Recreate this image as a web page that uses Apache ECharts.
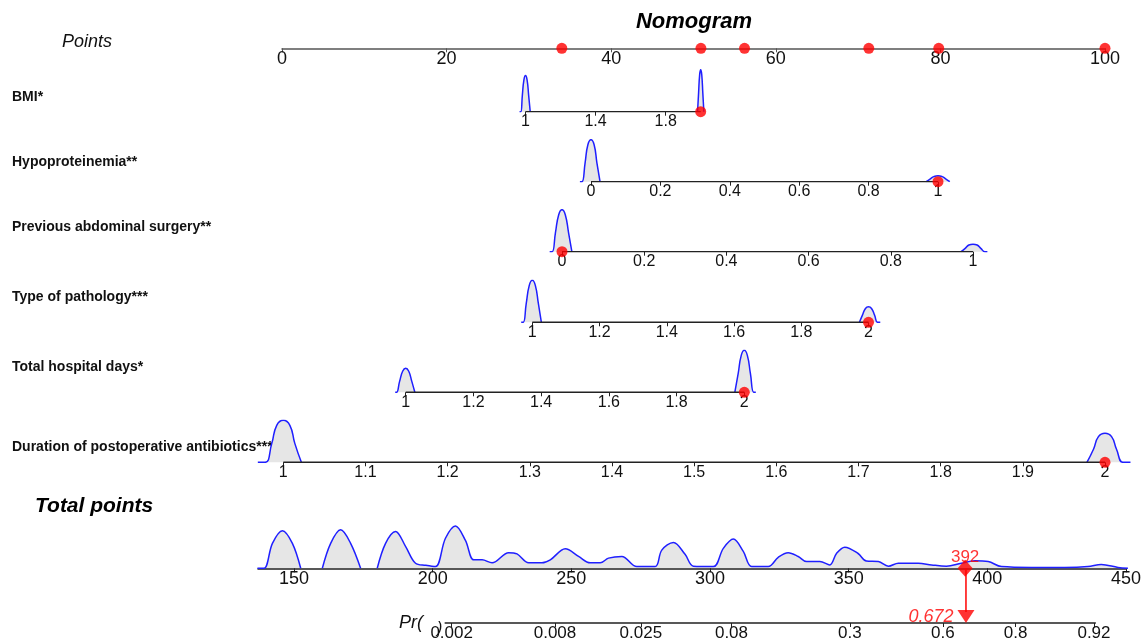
<!DOCTYPE html>
<html>
<head>
<meta charset="utf-8">
<title>Nomogram</title>
<script src="https://cdn.jsdelivr.net/npm/echarts@6/dist/echarts.min.js"></script>
<style>
    html, body { margin: 0; padding: 0; background: #fff; }
    #chart { width: 1144px; height: 642px; }
</style>
</head>
<body>
<div id="chart"></div>
<script>
// tick labels of every scale
var pointsTicks = [0, 20, 40, 60, 80, 100];
var bmiTicks = [1, 1.4, 1.8];
var hypoTicks = [0, 0.2, 0.4, 0.6, 0.8, 1];
var surgeryTicks = [0, 0.2, 0.4, 0.6, 0.8, 1];
var pathologyTicks = [1, 1.2, 1.4, 1.6, 1.8, 2];
var hospitalTicks = [1, 1.2, 1.4, 1.6, 1.8, 2];
var antibioticTicks = [1, 1.1, 1.2, 1.3, 1.4, 1.5, 1.6, 1.7, 1.8, 1.9, 2];
var totalTicks = [150, 200, 250, 300, 350, 400, 450];
var prTicks = [0.002, 0.008, 0.025, 0.08, 0.3, 0.6, 0.8, 0.92];

var rowNames = ['BMI*', 'Hypoproteinemia**', 'Previous abdominal surgery**',
    'Type of pathology***', 'Total hospital days*', 'Duration of postoperative antibiotics***'];
var rowRanges = [[1, 2], [0, 1], [0, 1], [1, 2], [1, 2], [1, 2]];

// the patient shown in red
var patientValues = [2, 1, 0, 2, 2, 2];
var patientPoints = [34.0, 50.9, 56.2, 71.3, 79.8, 100];
var totalScore = 392;
var riskProb = 0.672;

// density humps: [value, relative height]
var bmiDensity = [[0.966, 0], [0.973, 0], [0.982, 0.39], [0.991, 0.76], [1, 0.86], [1.009, 0.76], [1.018, 0.39], [1.027, 0], '-',
    [1.982, 0], [1.988, 0.45], [1.994, 0.88], [2, 1], [2.006, 0.88], [2.012, 0.45], [2.018, 0]];
var hypoDensity = [[-0.032, 0], [-0.026, 0], [-0.017, 0.45], [-0.009, 0.88], [0, 1], [0.009, 0.88], [0.017, 0.45], [0.026, 0], '-',
    [0.966, 0], [0.978, 0.07], [0.988, 0.12], [1, 0.14], [1.012, 0.12], [1.022, 0.07], [1.034, 0]];
var surgeryDensity = [[-0.03, 0], [-0.024, 0], [-0.016, 0.45], [-0.008, 0.88], [0, 1], [0.008, 0.88], [0.016, 0.45], [0.024, 0], '-',
    [0.971, 0], [0.981, 0.08], [0.99, 0.16], [1, 0.18], [1.01, 0.16], [1.019, 0.08], [1.029, 0], [1.035, 0]];
var pathologyDensity = [[0.967, 0], [0.973, 0], [0.982, 0.45], [0.991, 0.88], [1, 1], [1.009, 0.88], [1.018, 0.45], [1.027, 0], '-',
    [1.973, 0], [1.982, 0.17], [1.991, 0.33], [2, 0.37], [2.009, 0.33], [2.018, 0.17], [2.027, 0], [2.035, 0]];
var hospitalDensity = [[0.969, 0], [0.973, 0], [0.982, 0.26], [0.991, 0.5], [1, 0.57], [1.009, 0.5], [1.018, 0.26], [1.027, 0], '-',
    [1.972, 0], [1.982, 0.45], [1.991, 0.88], [2, 1], [2.009, 0.88], [2.018, 0.45], [2.028, 0], [2.034, 0]];
var antibioticDensity = [[0.969, 0], [0.978, 0], [0.986, 0.45], [0.992, 0.88], [1, 1], [1.008, 0.88], [1.014, 0.45], [1.022, 0], '-',
    [1.978, 0], [1.986, 0.31], [1.992, 0.61], [2, 0.69], [2.008, 0.61], [2.014, 0.31], [2.022, 0], [2.031, 0]];

var totalDensityX = [136.8, 139.2, 142.2, 145.8, 149.4, 152.4, 156, 160.2, 163.2, 166.8, 170.4, 174.0, 177,
    180.0, 183.0, 186.6, 190.2, 193.8, 197.5, 201.0, 204.6, 208.2, 211.8, 214.8, 217.8, 221.4, 227.4, 230.4,
    234.6, 239.4, 242.4, 247.8, 252.6, 256.8, 260.4, 263.4, 268.2, 273.6, 280.2, 282.6, 286.8, 291.0, 294.0,
    301.2, 304.8, 308.4, 312.0, 315.0, 321.0, 324.6, 328.2, 331.8, 334.8, 339.6, 343.2, 345.6, 348.6, 353.4,
    356.4, 360.7, 364.3, 367.9, 375.1, 379.9, 385.2, 390.6, 395.5, 400.3, 405.1, 415.9, 427.9, 436.3, 441.1,
    447.1, 450.7];
var totalDensityY = [0, 0, 0.59, 0.89, 0.59, 0, '-', 0, 0.59, 0.91, 0.59, 0, '-',
    0, 0.59, 0.87, 0.52, 0.12, 0.07, 0.04, 0.71, 1.0, 0.66, 0.20, 0.20, 0.13, 0.37, 0.34,
    0.13, 0.13, 0.20, 0.46, 0.28, 0.13, 0.13, 0.24, 0.28, 0.04, 0.04, 0.43, 0.61, 0.33, 0.05,
    0.04, 0.47, 0.69, 0.40, 0.04, 0.04, 0.26, 0.37, 0.28, 0.16, 0.16, 0.08, 0.35, 0.50, 0.35,
    0.17, 0.16, 0.05, 0.12, 0.12, 0.08, 0.05, 0.12, 0.18, 0.16, 0.04, 0.02, 0.02, 0.04, 0.09,
    0.02, 0];

var font = 'Liberation Sans, Arial, sans-serif';
var blue = '#1f1fff';
var fillGrey = '#e6e6e6';
var red = '#ff0000';
var axisColor = '#222';

function logit(p) { return Math.log(p / (1 - p)); }
function plainNum(v) { return String(parseFloat(Number(v).toFixed(4))); }

// pixel layout of each variable row (left/width = where min..max of the variable sit)
var rowLayout = [
    { left: 525.5, width: 175.2, lineY: 111.7, labelY: 97 },
    { left: 591, width: 347, lineY: 181.7, labelY: 162 },
    { left: 562, width: 411, lineY: 251.7, labelY: 227 },
    { left: 532.3, width: 336.2, lineY: 322.3, labelY: 297 },
    { left: 405.7, width: 338.6, lineY: 392.3, labelY: 367 },
    { left: 283.3, width: 821.7, lineY: 462.3, labelY: 447 }
];
var rowTicks = [bmiTicks, hypoTicks, surgeryTicks, pathologyTicks, hospitalTicks, antibioticTicks];
var rowDensity = [bmiDensity, hypoDensity, surgeryDensity, pathologyDensity, hospitalDensity, antibioticDensity];
var humpH = 42;
var padPx = 28; // extra room on both sides so humps are not cut at the ends

var grids = [], xAxes = [], yAxes = [], series = [];

function makeAxis(idx, min, max, ticks, size, lineColor, showLine, fmt) {
    return {
        gridIndex: idx, type: 'value', min: min, max: max, position: 'bottom', z: 3,
        axisLine: { show: showLine, onZero: false, lineStyle: { color: lineColor, width: 1.5 } },
        axisTick: { show: true, customValues: ticks, length: 4, lineStyle: { color: lineColor, width: 1 } },
        axisLabel: { customValues: ticks, margin: 2, fontSize: size, color: '#111', fontFamily: font, formatter: fmt || plainNum },
        splitLine: { show: false }
    };
}
function makeYAxis(idx) {
    return { gridIndex: idx, type: 'value', min: 0, max: 1, show: false };
}

// Points scale
grids.push({ left: 282, width: 823, top: 38, height: 10.3 });
xAxes.push(makeAxis(0, 0, 100, pointsTicks, 18, '#555', true));
yAxes.push(makeYAxis(0));
series.push({
    type: 'scatter', xAxisIndex: 0, yAxisIndex: 0, z: 5, clip: false,
    symbolSize: 11, itemStyle: { color: red },
    data: patientPoints.map(function (v) { return [v, 0]; })
});

// variable rows
rowLayout.forEach(function (r, i) {
    var idx = i + 1;
    var lo = rowRanges[i][0], hi = rowRanges[i][1];
    var pad = padPx * (hi - lo) / r.width;
    grids.push({ left: r.left - padPx, width: r.width + 2 * padPx, top: r.lineY - humpH, height: humpH });
    xAxes.push(makeAxis(idx, lo - pad, hi + pad, rowTicks[i], 16, axisColor, false));
    yAxes.push(makeYAxis(idx));
    series.push({
        type: 'line', xAxisIndex: idx, yAxisIndex: idx, smooth: 0.5, z: 2,
        symbol: 'none', connectNulls: false,
        lineStyle: { color: blue, width: 1.5 },
        areaStyle: { color: fillGrey, opacity: 1 },
        data: rowDensity[i]
    });
    // the scale line itself, from min to max of the variable
    series.push({
        type: 'line', xAxisIndex: idx, yAxisIndex: idx, z: 3, symbol: 'none',
        lineStyle: { color: axisColor, width: 1.5 },
        data: [[lo, 0], [hi, 0]]
    });
    series.push({
        type: 'scatter', xAxisIndex: idx, yAxisIndex: idx, z: 5, clip: false,
        symbolSize: 11, itemStyle: { color: red },
        data: [[patientValues[i], 0]]
    });
});

// Total points
grids.push({ left: 258, width: 870, top: 526, height: 42.3 });
xAxes.push(makeAxis(7, 137, 450, totalTicks, 18, axisColor, true));
yAxes.push(makeYAxis(7));
series.push({
    type: 'line', xAxisIndex: 7, yAxisIndex: 7, clip: false, smooth: 0.35,
    symbol: 'none', connectNulls: false,
    lineStyle: { color: blue, width: 1.5 },
    areaStyle: { color: fillGrey, opacity: 1 },
    data: totalDensityX.map(function (x, i) { return [x, totalDensityY[i]]; })
});
series.push({
    type: 'scatter', xAxisIndex: 7, yAxisIndex: 7, z: 5, clip: false,
    symbol: 'diamond', symbolSize: [15, 17], itemStyle: { color: red },
    label: { show: true, position: 'top', distance: -6, color: red, fontSize: 17, fontFamily: font,
        formatter: String(totalScore) },
    data: [[totalScore, 0]]
});

// Probability scale (logit spaced)
var prLogits = prTicks.map(logit);
grids.push({ left: 445.2, width: 650.1, top: 568.3, height: 55 });
xAxes.push(makeAxis(8, -6.3, 2.46, prLogits, 17, axisColor, true, function (v) {
    var best = 0;
    prLogits.forEach(function (l, i) {
        if (Math.abs(l - v) < Math.abs(prLogits[best] - v)) best = i;
    });
    return String(prTicks[best]);
}));
yAxes.push(makeYAxis(8));
var riskLogit = logit(riskProb);
series.push({
    type: 'line', xAxisIndex: 8, yAxisIndex: 8, z: 4, clip: false, symbol: 'none',
    lineStyle: { color: red, width: 1.5 },
    data: [[riskLogit, 1], [riskLogit, 0.2]]
});
series.push({
    type: 'scatter', xAxisIndex: 8, yAxisIndex: 8, z: 5, clip: false,
    symbol: 'path://M0,0L10,0L5,8Z', symbolKeepAspect: false,
    symbolSize: [17, 13], symbolOffset: [0, -6.5], itemStyle: { color: red },
    label: { show: true, position: 'left', distance: 4, color: red, fontSize: 18, fontStyle: 'italic',
        fontFamily: font, formatter: riskProb.toFixed(3) },
    data: [[riskLogit, 0]]
});

// texts
var graphics = [
    { type: 'text', x: 694, y: 22, style: { text: 'Nomogram', fontSize: 22, fontWeight: 'bold', fontStyle: 'italic',
        fontFamily: font, fill: '#000', align: 'center', verticalAlign: 'middle' } },
    { type: 'text', x: 62, y: 42, style: { text: 'Points', fontSize: 18, fontStyle: 'italic',
        fontFamily: font, fill: '#111', verticalAlign: 'middle' } },
    { type: 'text', x: 35, y: 506, style: { text: 'Total points', fontSize: 21, fontWeight: 'bold', fontStyle: 'italic',
        fontFamily: font, fill: '#000', verticalAlign: 'middle' } },
    { type: 'text', x: 399, y: 623, style: { text: 'Pr(', fontSize: 18, fontStyle: 'italic',
        fontFamily: font, fill: '#111', verticalAlign: 'middle' } },
    { type: 'text', x: 437, y: 629, style: { text: ')', fontSize: 16, fontStyle: 'italic',
        fontFamily: font, fill: '#111', verticalAlign: 'middle' } }
];
rowNames.forEach(function (name, i) {
    graphics.push({ type: 'text', x: 12, y: rowLayout[i].labelY, z: 1, style: { text: name, fontSize: 14, fontWeight: 'bold',
        fontFamily: font, fill: '#111', verticalAlign: 'middle' } });
});

var myChart = echarts.init(document.getElementById('chart'));
myChart.setOption({
    animation: false,
    backgroundColor: '#fff',
    grid: grids,
    xAxis: xAxes,
    yAxis: yAxes,
    series: series,
    graphic: graphics
});
</script>
</body>
</html>
